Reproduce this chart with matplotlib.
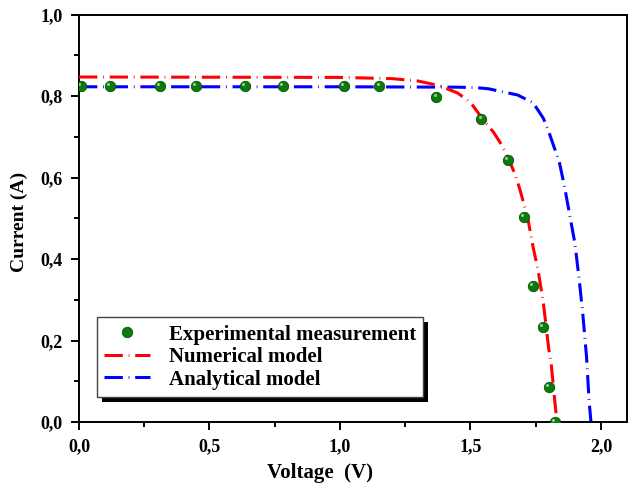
import matplotlib
matplotlib.use("Agg")
import matplotlib.pyplot as plt
from matplotlib.ticker import MultipleLocator, FixedLocator, FixedFormatter
from matplotlib.patches import Rectangle
from matplotlib.transforms import IdentityTransform, offset_copy

# ---- data ----
exp_v = [0.008, 0.119, 0.31, 0.448, 0.635, 0.78, 1.014, 1.151, 1.37, 1.542,
         1.644, 1.706, 1.738, 1.779, 1.802, 1.825]
exp_i = [0.826, 0.826, 0.826, 0.826, 0.826, 0.826, 0.826, 0.826, 0.799, 0.744,
         0.644, 0.504, 0.334, 0.234, 0.086, 0.0]

num_v = [0.0, 1.0, 1.2, 1.3, 1.38, 1.45, 1.5, 1.54, 1.59, 1.62, 1.65, 1.67,
         1.69, 1.72, 1.74, 1.76, 1.78, 1.80, 1.81, 1.825, 1.832]
num_i = [0.847, 0.846, 0.843, 0.837, 0.826, 0.808, 0.785, 0.75, 0.71, 0.68,
         0.64, 0.61, 0.57, 0.50, 0.43, 0.37, 0.29, 0.18, 0.14, 0.04, 0.0]

ana_v = [0.0, 1.0, 1.45, 1.52, 1.57, 1.62, 1.68, 1.74, 1.78, 1.80, 1.82, 1.84,
         1.86, 1.88, 1.90, 1.915, 1.93, 1.945, 1.955, 1.962]
ana_i = [0.823, 0.823, 0.822, 0.821, 0.818, 0.811, 0.803, 0.784, 0.745, 0.713,
         0.676, 0.64, 0.58, 0.51, 0.44, 0.36, 0.27, 0.16, 0.05, 0.0]

x_ticks = [0.0, 0.5, 1.0, 1.5, 2.0]
x_tick_labels = ["0,0", "0,5", "1,0", "1,5", "2,0"]
y_ticks = [0.0, 0.2, 0.4, 0.6, 0.8, 1.0]
y_tick_labels = ["0,0", "0,2", "0,4", "0,6", "0,8", "1,0"]

labels = ["Experimental measurement", "Numerical model", "Analytical model"]

# ---- figure ----
plt.rcParams['font.family'] = ['Liberation Serif', 'DejaVu Serif']
plt.rcParams['font.weight'] = 'bold'

fig = plt.figure(figsize=(6.33, 4.86), dpi=100)
ax = fig.add_axes([0.1248, 0.1317, 0.8657, 0.8381])

dash = (0, (6, 1.9, 0.25, 1.9))
ax.plot(num_v, num_i, color='#ff0000', lw=2.2, linestyle=dash, zorder=3,
        label=labels[1])
ax.plot(ana_v, ana_i, color='#0000ff', lw=2.2, linestyle=dash, zorder=2,
        label=labels[2])
ax.plot(exp_v, exp_i, linestyle='none', marker='o', markersize=7.5,
        markerfacecolor='#0c7a0c', markeredgecolor='#065406',
        markeredgewidth=0.6, zorder=4, label=labels[0])
# highlight on the spheres
hl = offset_copy(ax.transData, fig=fig, x=-1.3, y=1.3, units='points')
ax.plot(exp_v, exp_i, linestyle='none', marker='o', markersize=2.2,
        markerfacecolor='#8fd08f', markeredgewidth=0, zorder=5, transform=hl)

ax.set_xlim(0, 2.1)
ax.set_ylim(0, 1.0)
ax.xaxis.set_major_locator(FixedLocator(x_ticks))
ax.xaxis.set_major_formatter(FixedFormatter(x_tick_labels))
ax.yaxis.set_major_locator(FixedLocator(y_ticks))
ax.yaxis.set_major_formatter(FixedFormatter(y_tick_labels))
ax.xaxis.set_minor_locator(MultipleLocator(0.25))
ax.yaxis.set_minor_locator(MultipleLocator(0.1))

ax.tick_params(which='major', direction='out', length=6, width=1.4,
               labelsize=13, pad=6)
ax.tick_params(which='minor', direction='out', length=3.5, width=1.4)
for lab in ax.get_xticklabels() + ax.get_yticklabels():
    lab.set_fontweight('bold')
for sp in ax.spines.values():
    sp.set_linewidth(1.4)

ax.set_xlabel("Voltage  (V)", fontsize=15, fontweight='bold')
ax.set_ylabel("Current (A)", fontsize=14, fontweight='bold')
ax.xaxis.set_label_coords(0.44, -0.10)
ax.yaxis.set_label_coords(-0.093, 0.49)

h, l = ax.get_legend_handles_labels()
order = [2, 0, 1]
leg = ax.legend([h[i] for i in order], [l[i] for i in order],
                loc='lower left', bbox_to_anchor=(97 / 633, 89 / 486),
                bbox_transform=fig.transFigure, borderaxespad=0,
                prop={'family': 'Liberation Serif', 'weight': 'bold', 'size': 15},
                frameon=True, fancybox=False, framealpha=1,
                edgecolor='#444444', handlelength=2.2, handletextpad=0.9,
                borderpad=0.35, labelspacing=0.12)
leg.get_frame().set_linewidth(1.0)
leg.set_zorder(10)

fig.canvas.draw()
bb = leg.get_window_extent()
shadow = Rectangle((bb.x0 + 5, bb.y0 - 5), bb.width, bb.height,
                   transform=IdentityTransform(), facecolor='black',
                   edgecolor='none', zorder=9, clip_on=False)
ax.add_patch(shadow)

fig.savefig("out.png", dpi=100)
